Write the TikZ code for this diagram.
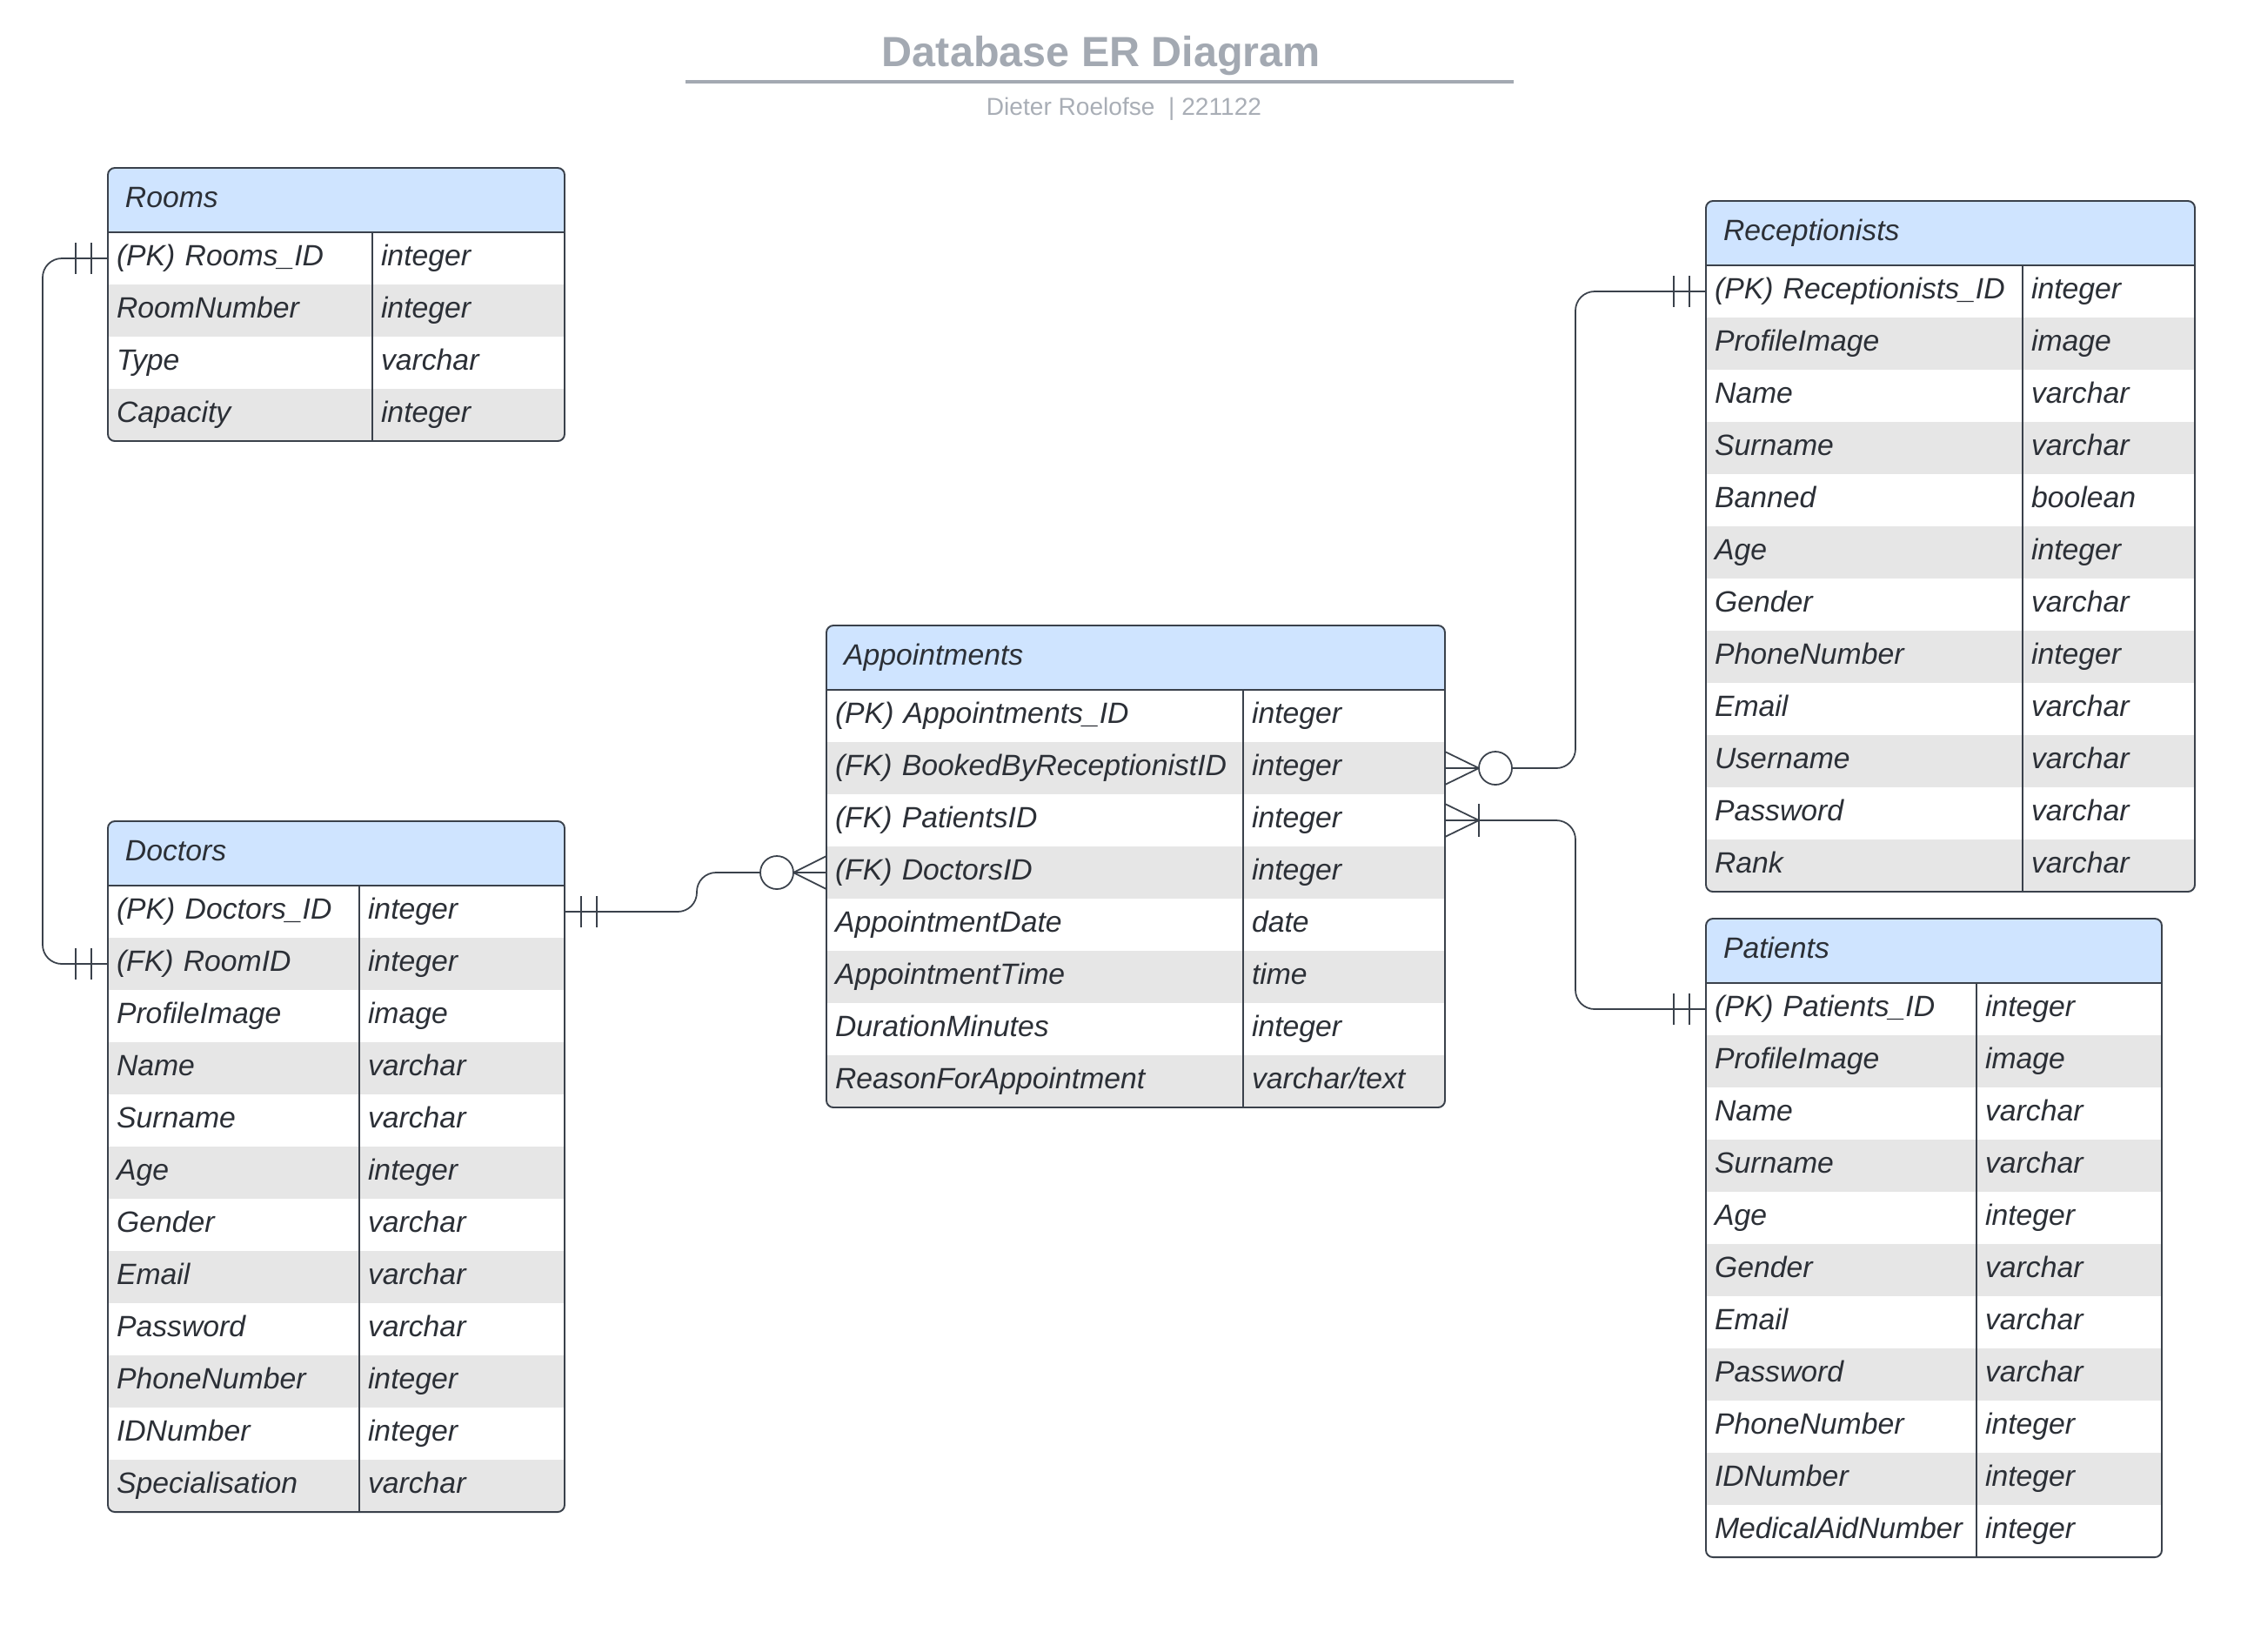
\documentclass[tikz,border=0pt]{standalone}
\usepackage{fontspec}
\setmainfont{Liberation Sans}
\usepackage{tikz}
\usetikzlibrary{positioning}
\usepackage{xcolor}
\definecolor{hdrblue}{HTML}{CFE4FF}
\definecolor{rowgray}{HTML}{E6E6E6}
\definecolor{edgedark}{HTML}{3A414B}
\definecolor{titlegray}{HTML}{A3A9B2}
\definecolor{subgray}{HTML}{A9AEB6}
\definecolor{textdark}{HTML}{2B2F36}
\tikzset{
    hdr/.style={anchor=north west, fill=hdrblue, minimum height=0.74cm, inner xsep=0.2cm, inner ysep=0pt, outer sep=0pt, align=left, text=textdark, font=\fontsize{9.6}{11}\selectfont\itshape, text height=0.24cm, text depth=0.07cm},
    cell/.style={anchor=north west, minimum height=0.6cm, inner xsep=0.1cm, inner ysep=0pt, outer sep=0pt, align=left, text=textdark, font=\fontsize{9.6}{11}\selectfont\itshape, text height=0.24cm, text depth=0.07cm},
    tbl/.style={draw=edgedark, line width=0.55pt, rounded corners=0.08cm},
    rel/.style={draw=edgedark, line width=0.5pt},
}

\begin{document}
\begin{tikzpicture}
                \useasboundingbox (0,0) rectangle (25.91,-18.98);
                % title
                \node[font=\fontsize{13.8}{16}\selectfont\bfseries, text=titlegray](title) at (12.66,-0.64){Database ER Diagram};
                \draw[titlegray, line width=1.4pt] (7.88,-0.94) -- (17.40,-0.94);
                \node[font=\fontsize{8}{10}\selectfont, text=subgray](byline) at (12.92,-1.25){Dieter Roelofse\ \ | 221122};

                % Rooms
                \begin{scope}
                \clip[rounded corners=0.08cm] (1.24,-1.93) rectangle (6.49,-5.07);
                \node[hdr, text width=4.85cm](rooms) at (1.24,-1.93){Rooms};
                \foreach \f/\t [count=\i] in {{(PK) Rooms\_ID}/integer, RoomNumber/integer, Type/varchar, Capacity/integer}{
                    \ifodd\i \def\rowfill{white}\else \def\rowfill{rowgray}\fi
                    \node[cell, fill=\rowfill, text width=2.84cm](rooms-\i) at (1.24,{-2.67-0.6*(\i-1)}){\f};
                    \node[cell, fill=\rowfill, text width=2.01cm](rooms-\i-t) at (4.28,{-2.67-0.6*(\i-1)}){\t};
                }
                \end{scope}
                \draw[tbl] (rooms.north west) rectangle (rooms-4-t.south east);
                \draw[tbl] (rooms.south west) -- (rooms.south east);
                \draw[tbl] (rooms-1-t.north west) -- (rooms-4-t.south west);

                % Doctors
                \begin{scope}
                \clip[rounded corners=0.08cm] (1.24,-9.44) rectangle (6.49,-17.38);
                \node[hdr, text width=4.85cm](doctors) at (1.24,-9.44){Doctors};
                \foreach \f/\t [count=\i] in {{(PK) Doctors\_ID}/integer, {(FK) RoomID}/integer, ProfileImage/image, Name/varchar, Surname/varchar, Age/integer, Gender/varchar, Email/varchar, Password/varchar, PhoneNumber/integer, IDNumber/integer, Specialisation/varchar}{
                    \ifodd\i \def\rowfill{white}\else \def\rowfill{rowgray}\fi
                    \node[cell, fill=\rowfill, text width=2.69cm](doctors-\i) at (1.24,{-10.18-0.6*(\i-1)}){\f};
                    \node[cell, fill=\rowfill, text width=2.16cm](doctors-\i-t) at (4.13,{-10.18-0.6*(\i-1)}){\t};
                }
                \end{scope}
                \draw[tbl] (doctors.north west) rectangle (doctors-12-t.south east);
                \draw[tbl] (doctors.south west) -- (doctors.south east);
                \draw[tbl] (doctors-1-t.north west) -- (doctors-12-t.south west);

                % Appointments
                \begin{scope}
                \clip[rounded corners=0.08cm] (9.50,-7.19) rectangle (16.61,-12.73);
                \node[hdr, text width=6.71cm](appt) at (9.50,-7.19){Appointments};
                \foreach \f/\t [count=\i] in {{(PK) Appointments\_ID}/integer, {(FK) BookedByReceptionistID}/integer, {(FK) PatientsID}/integer, {(FK) DoctorsID}/integer, AppointmentDate/date, AppointmentTime/time, DurationMinutes/integer, ReasonForAppointment/{varchar/text}}{
                    \ifodd\i \def\rowfill{white}\else \def\rowfill{rowgray}\fi
                    \node[cell, fill=\rowfill, text width=4.59cm](appt-\i) at (9.50,{-7.93-0.6*(\i-1)}){\f};
                    \node[cell, fill=\rowfill, text width=2.12cm](appt-\i-t) at (14.29,{-7.93-0.6*(\i-1)}){\t};
                }
                \end{scope}
                \draw[tbl] (appt.north west) rectangle (appt-8-t.south east);
                \draw[tbl] (appt.south west) -- (appt.south east);
                \draw[tbl] (appt-1-t.north west) -- (appt-8-t.south west);

                % Receptionists
                \begin{scope}
                \clip[rounded corners=0.08cm] (19.61,-2.31) rectangle (25.23,-10.25);
                \node[hdr, text width=5.22cm](recep) at (19.61,-2.31){Receptionists};
                \foreach \f/\t [count=\i] in {{(PK) Receptionists\_ID}/integer, ProfileImage/image, Name/varchar, Surname/varchar, Banned/boolean, Age/integer, Gender/varchar, PhoneNumber/integer, Email/varchar, Username/varchar, Password/varchar, Rank/varchar}{
                    \ifodd\i \def\rowfill{white}\else \def\rowfill{rowgray}\fi
                    \node[cell, fill=\rowfill, text width=3.44cm](recep-\i) at (19.61,{-3.05-0.6*(\i-1)}){\f};
                    \node[cell, fill=\rowfill, text width=1.78cm](recep-\i-t) at (23.25,{-3.05-0.6*(\i-1)}){\t};
                }
                \end{scope}
                \draw[tbl] (recep.north west) rectangle (recep-12-t.south east);
                \draw[tbl] (recep.south west) -- (recep.south east);
                \draw[tbl] (recep-1-t.north west) -- (recep-12-t.south west);

                % Patients
                \begin{scope}
                \clip[rounded corners=0.08cm] (19.61,-10.56) rectangle (24.85,-17.90);
                \node[hdr, text width=4.84cm](pat) at (19.61,-10.56){Patients};
                \foreach \f/\t [count=\i] in {{(PK) Patients\_ID}/integer, ProfileImage/image, Name/varchar, Surname/varchar, Age/integer, Gender/varchar, Email/varchar, Password/varchar, PhoneNumber/integer, IDNumber/integer, MedicalAidNumber/integer}{
                    \ifodd\i \def\rowfill{white}\else \def\rowfill{rowgray}\fi
                    \node[cell, fill=\rowfill, text width=2.91cm](pat-\i) at (19.61,{-11.30-0.6*(\i-1)}){\f};
                    \node[cell, fill=\rowfill, text width=1.93cm](pat-\i-t) at (22.72,{-11.30-0.6*(\i-1)}){\t};
                }
                \end{scope}
                \draw[tbl] (pat.north west) rectangle (pat-11-t.south east);
                \draw[tbl] (pat.south west) -- (pat.south east);
                \draw[tbl] (pat-1-t.north west) -- (pat-11-t.south west);

                % relations
                \draw[rel, rounded corners=0.22cm] (rooms-1.west) -- ++(-0.75,0) |- (doctors-2.west);
                \draw[rel, rounded corners=0.22cm] (doctors-1-t.east) -- ++(1.52,0) |- (appt-4.west);
                \draw[rel, rounded corners=0.22cm] (recep-1.west) -- ++(-1.50,0) |- (appt-2-t.east);
                \draw[rel, rounded corners=0.22cm] (pat-1.west) -- ++(-1.50,0) |- (appt-3-t.east);

                % exactly one
                \foreach \n in {rooms-1, doctors-2, recep-1, pat-1}
                    \foreach \d in {0.19,0.37}
                        \draw[rel] ([xshift=-\d cm, yshift=0.18cm]\n.west) -- ++(0,-0.36);
                \foreach \d in {0.19,0.37}
                    \draw[rel] ([xshift=\d cm, yshift=0.18cm]doctors-1-t.east) -- ++(0,-0.36);

                % zero or many
                \draw[rel] ([yshift=0.19cm]appt-4.west) -- ([xshift=-0.38cm]appt-4.west) -- ([yshift=-0.19cm]appt-4.west);
                \draw[rel, fill=white] ([xshift=-0.57cm]appt-4.west) circle (0.19cm);
                \draw[rel] ([yshift=0.19cm]appt-2-t.east) -- ([xshift=0.39cm]appt-2-t.east) -- ([yshift=-0.19cm]appt-2-t.east);
                \draw[rel, fill=white] ([xshift=0.58cm]appt-2-t.east) circle (0.19cm);

                % one or many
                \draw[rel] ([yshift=0.19cm]appt-3-t.east) -- ([xshift=0.39cm]appt-3-t.east) -- ([yshift=-0.19cm]appt-3-t.east);
                \draw[rel] ([xshift=0.39cm, yshift=0.19cm]appt-3-t.east) -- ++(0,-0.38);
\end{tikzpicture}
\end{document}
